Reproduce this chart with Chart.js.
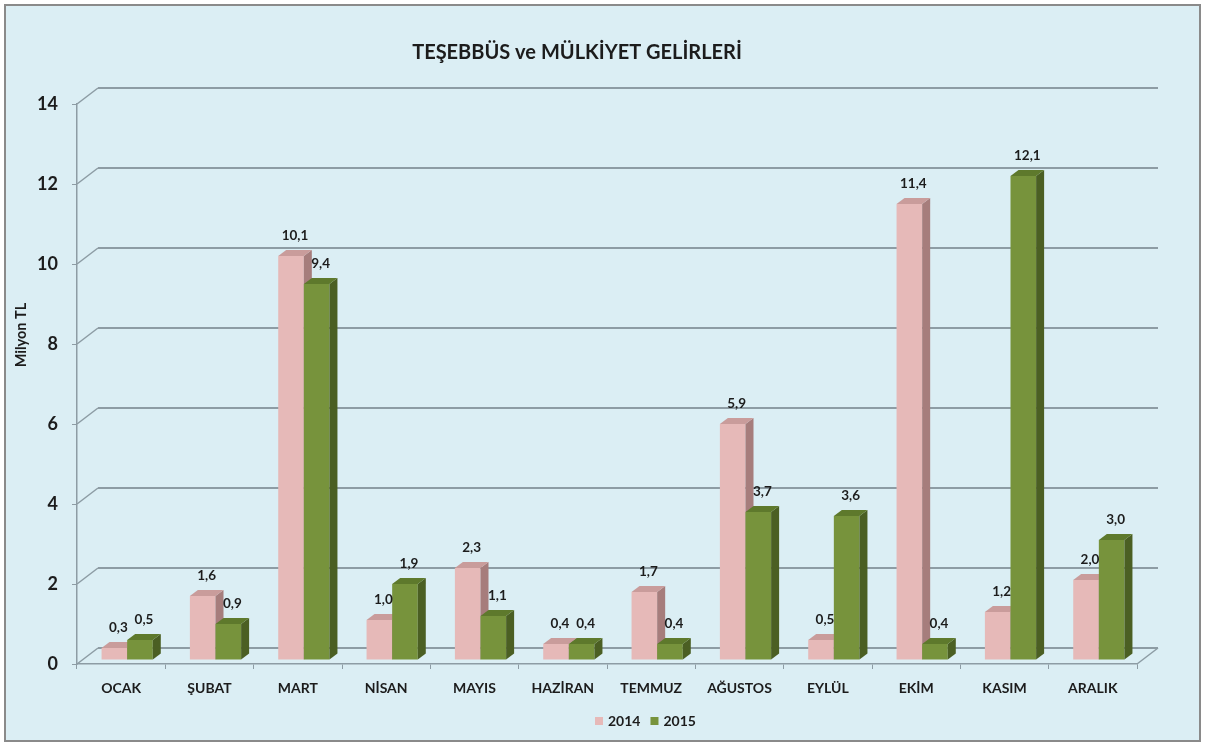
<!DOCTYPE html>
<html><head><meta charset="utf-8">
<script src="https://cdn.jsdelivr.net/npm/chart.js@4.4.1/dist/chart.umd.min.js"></script>
<style>html,body{margin:0;padding:0;background:#fff}canvas{display:block}</style>
</head><body>
<canvas id="c" width="1205" height="746"></canvas>
<script>
const categories = ['OCAK','ŞUBAT','MART','NİSAN','MAYIS','HAZİRAN','TEMMUZ','AĞUSTOS','EYLÜL','EKİM','KASIM','ARALIK'];
const series2014 = [0.3, 1.6, 10.1, 1.0, 2.3, 0.4, 1.7, 5.9, 0.5, 11.4, 1.2, 2.0];
const series2015 = [0.5, 0.9, 9.4, 1.9, 1.1, 0.4, 0.4, 3.7, 3.6, 0.4, 12.1, 3.0];
const seriesNames = ['2014', '2015'];
const chartTitle = 'TEŞEBBÜS ve MÜLKİYET GELİRLERİ';
const yAxisTitle = 'Milyon TL';
const yMin = 0, yMax = 14, yStep = 2;

const FONT = 'Lato, "Open Sans", sans-serif';
const TEXT = '#1c1c1c';
const GRID = '#8d9ca4';
const WALL = {x: 21, y: -16};
const BAR_SHIFT = {x: 6, y: -4};
const BAR_DEPTH = {x: 8, y: -6};
const palette = [
  {front: '#e6b9b8', side: '#a67d7c', top: '#c99c9b'},
  {front: '#77933c', side: '#4b5f23', top: '#5e792c'}
];
const fmt = v => v.toFixed(1).replace('.', ',');

const scenePlugin = {
  id: 'scene',
  beforeDraw(chart) {
    const ctx = chart.ctx;
    ctx.save();
    ctx.fillStyle = '#ffffff';
    ctx.fillRect(0, 0, chart.width, chart.height);
    ctx.fillStyle = '#dbeef4';
    ctx.fillRect(5, 5, chart.width - 10, chart.height - 10);
    ctx.strokeStyle = '#8a8a8a';
    ctx.lineWidth = 2;
    ctx.strokeRect(5, 5, chart.width - 10, chart.height - 10);
    ctx.restore();
  },
  beforeDatasetsDraw(chart) {
    const {ctx, chartArea: a, scales: {y}} = chart;
    ctx.save();
    ctx.strokeStyle = GRID;
    y.ticks.forEach(t => {
      const py = y.getPixelForValue(t.value);
      ctx.lineWidth = 1.5;
      ctx.beginPath(); ctx.moveTo(a.left, py); ctx.lineTo(a.left + WALL.x, py + WALL.y); ctx.stroke();
      ctx.lineWidth = 2;
      ctx.beginPath(); ctx.moveTo(a.left + WALL.x, py + WALL.y); ctx.lineTo(a.right + WALL.x, py + WALL.y); ctx.stroke();
    });
    const p0 = y.getPixelForValue(0);
    ctx.lineWidth = 1.5;
    ctx.beginPath(); ctx.moveTo(a.right, p0); ctx.lineTo(a.right + WALL.x, p0 + WALL.y); ctx.stroke();

    ctx.translate(BAR_SHIFT.x, BAR_SHIFT.y);
    const metas = chart.getSortedVisibleDatasetMetas().slice().sort((m1, m2) => m1.index - m2.index);
    for (let i = 0; i < categories.length; i++) {
      for (const meta of metas) {
        const el = meta.data[i];
        if (!el) continue;
        const pal = palette[meta.index];
        el.draw(ctx);
        const l = el.x - el.width / 2, r = el.x + el.width / 2, t = el.y, b = el.base;
        ctx.fillStyle = pal.side;
        ctx.beginPath();
        ctx.moveTo(r, t); ctx.lineTo(r + BAR_DEPTH.x, t + BAR_DEPTH.y);
        ctx.lineTo(r + BAR_DEPTH.x, b + BAR_DEPTH.y); ctx.lineTo(r, b); ctx.closePath(); ctx.fill();
        ctx.fillStyle = pal.top;
        ctx.beginPath();
        ctx.moveTo(l, t); ctx.lineTo(l + BAR_DEPTH.x, t + BAR_DEPTH.y);
        ctx.lineTo(r + BAR_DEPTH.x, t + BAR_DEPTH.y); ctx.lineTo(r, t); ctx.closePath(); ctx.fill();
      }
    }
    ctx.restore();
    return false;
  },
  afterDraw(chart) {
    const ctx = chart.ctx;
    ctx.save();
    // data labels
    ctx.fillStyle = TEXT;
    ctx.font = 'bold 13.5px ' + FONT;
    ctx.textAlign = 'center';
    ctx.textBaseline = 'middle';
    chart.getSortedVisibleDatasetMetas().forEach(meta => {
      meta.data.forEach((el, i) => {
        const v = chart.data.datasets[meta.index].data[i];
        ctx.fillText(fmt(v), el.x + BAR_SHIFT.x + 4, el.y + BAR_SHIFT.y - 20);
      });
    });
    // title
    ctx.font = 'bold 20px ' + FONT;
    ctx.fillText(chartTitle, 577, 53);
    // y axis title
    ctx.save();
    ctx.translate(21, 335);
    ctx.rotate(-Math.PI / 2);
    ctx.font = 'bold 14.5px ' + FONT;
    ctx.fillText(yAxisTitle, 0, 0);
    ctx.restore();
    // legend
    ctx.font = 'bold 14px ' + FONT;
    ctx.textAlign = 'left';
    let x = 595;
    const ly = 721;
    chart.data.datasets.forEach((ds, k) => {
      ctx.fillStyle = ds.backgroundColor;
      ctx.fillRect(x, ly - 4, 8, 8);
      x += 13;
      ctx.fillStyle = TEXT;
      ctx.fillText(ds.label, x, ly);
      x += ctx.measureText(ds.label).width + 10;
    });
    ctx.restore();
  }
};

new Chart(document.getElementById('c'), {
  type: 'bar',
  data: {
    labels: categories,
    datasets: [
      {label: seriesNames[0], data: series2014, backgroundColor: palette[0].front, borderWidth: 0},
      {label: seriesNames[1], data: series2015, backgroundColor: palette[1].front, borderWidth: 0}
    ]
  },
  options: {
    responsive: false,
    animation: false,
    devicePixelRatio: 1,
    events: [],
    layout: {padding: {left: 4, right: 68, top: 104, bottom: 0}},
    datasets: {bar: {categoryPercentage: 0.58, barPercentage: 1}},
    plugins: {legend: {display: false}, title: {display: false}, tooltip: {enabled: false}},
    scales: {
      x: {
        afterFit(s) { s.height = 82; },
        grid: {drawOnChartArea: false, drawTicks: true, tickLength: 5, color: GRID, tickColor: GRID},
        border: {display: true, color: GRID, width: 1.5},
        ticks: {color: TEXT, font: {family: FONT, size: 14, weight: 'bold'}, padding: 11, maxRotation: 0, autoSkip: false}
      },
      y: {
        min: yMin, max: yMax,
        afterFit(s) { s.width = 73; },
        grid: {drawOnChartArea: false, drawTicks: true, tickLength: 5, color: GRID, tickColor: GRID},
        border: {display: true, color: GRID, width: 1.5},
        ticks: {stepSize: yStep, color: TEXT, font: {family: FONT, size: 18, weight: 'bold'}, padding: 14}
      }
    }
  },
  plugins: [scenePlugin]
});
</script>
</body></html>
